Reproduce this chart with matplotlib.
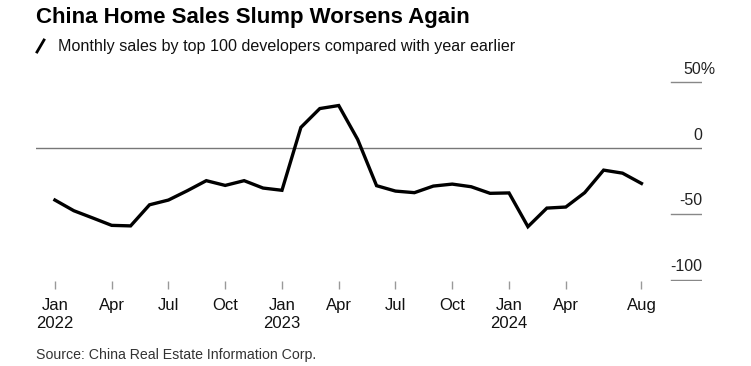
import matplotlib.pyplot as plt
import matplotlib.transforms as mtransforms
from matplotlib.lines import Line2D

# monthly yoy change in sales, Jan 2022 .. Aug 2024
values = [-39.4, -47.5, -53, -58.6, -59, -43, -39.4, -32.3, -24.7, -28.3, -24.7, -30.3,
          -32, 15.7, 30, 32.3, 6.6, -28.5, -32.6, -33.8, -28.8, -27.3, -29.3, -34.3,
          -34, -59.6, -45.5, -44.7, -33.8, -16.7, -19, -26.8]
tick_pos = [0, 3, 6, 9, 12, 15, 18, 21, 24, 27, 31]
tick_labels = ['Jan\n2022', 'Apr', 'Jul', 'Oct', 'Jan\n2023', 'Apr', 'Jul', 'Oct',
               'Jan\n2024', 'Apr', 'Aug']
y_levels = [50, 0, -50, -100]
y_labels = ['50%', '0', '-50', '-100']

plt.rcParams['font.family'] = ['Liberation Sans', 'DejaVu Sans']

W, H = 751, 366
fig = plt.figure(figsize=(W / 100, H / 100), dpi=100)
ax = fig.add_axes([36 / W, (H - 281) / H, (702 - 36) / W, (281 - 69) / H])

months = list(range(len(values)))
ax.set_xlim(-1.0, 34.2)
ax.set_ylim(-100.8, 60)

# zero line across the full width, short stubs for the other levels
ax.axhline(0, color='#777777', lw=1.0, zorder=1)
for lv in y_levels:
    if lv != 0:
        ax.axhline(lv, xmin=0.953, xmax=1.0, color='#888888', lw=1.0, zorder=1)

ax.plot(months, values, color='black', lw=2.4, solid_joinstyle='miter', zorder=3)

trans = mtransforms.blended_transform_factory(ax.transAxes, ax.transData)
lab_trans = trans + mtransforms.ScaledTranslation(0, 4 / 72, fig.dpi_scale_trans)
for lv, lab in zip(y_levels, y_labels):
    # the % sign hangs past the right edge, numbers stay right-aligned
    x = 1.0 + (14 / (702 - 36) if lab.endswith('%') else 0)
    ax.text(x, lv, lab, transform=lab_trans, ha='right', va='bottom', fontsize=11.5,
            color='#222222')

ax.set_xticks(tick_pos)
ax.set_xticklabels(tick_labels, fontsize=12, color='#111111', linespacing=1.25)
ax.tick_params(axis='x', length=6, width=1, color='#999999', pad=6)
ax.set_yticks([])
for s in ax.spines.values():
    s.set_visible(False)

fig.text(36 / W, 1 - 17 / H, 'China Home Sales Slump Worsens Again', fontsize=16,
         fontweight='bold', va='center', ha='left')
fig.text(58 / W, 1 - 46 / H, 'Monthly sales by top 100 developers compared with year earlier',
         fontsize=11.6, va='center', ha='left', color='#111111')
fig.add_artist(Line2D([37 / W, 44 / W], [1 - 52 / H, 1 - 40 / H], color='black', lw=2.0))
fig.text(36 / W, 1 - 355 / H, 'Source: China Real Estate Information Corp.', fontsize=10.2,
         va='center', ha='left', color='#333333')

fig.savefig('out.png', dpi=100)
